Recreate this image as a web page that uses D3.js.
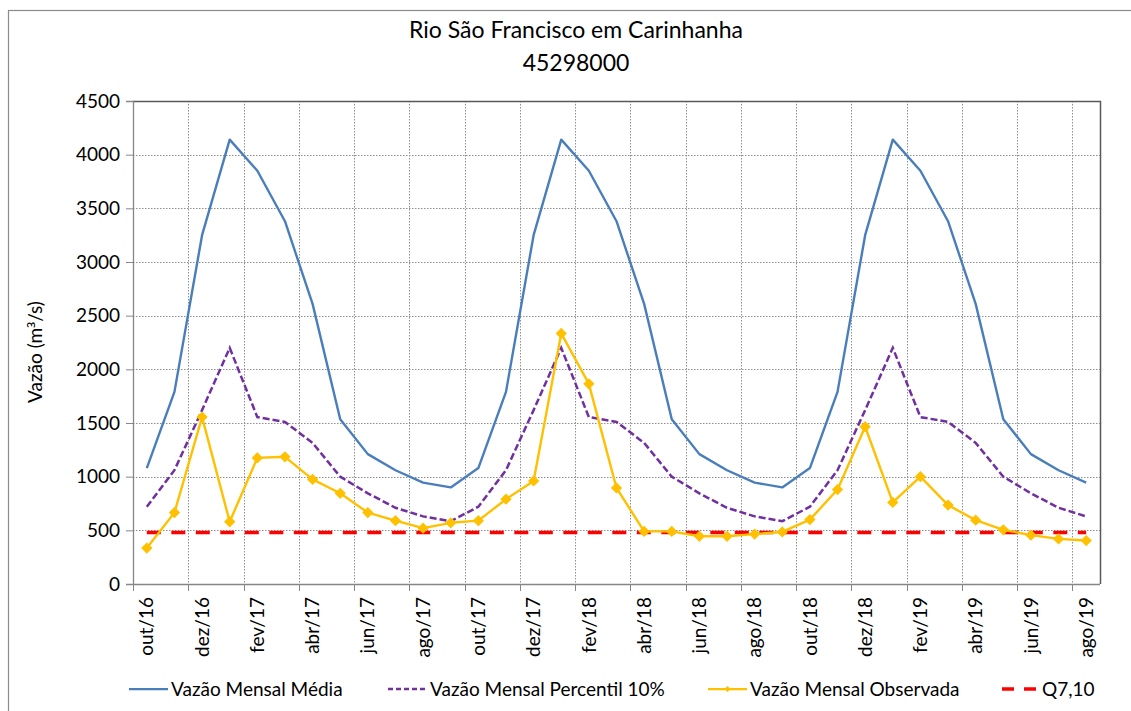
<!DOCTYPE html>
<html>
<head>
<meta charset="utf-8">
<script src="https://cdn.jsdelivr.net/npm/d3@7"></script>
<style>
  html, body { margin: 0; padding: 0; background: #fff; }
  svg { display: block; font-family: Lato, "Open Sans", sans-serif; }
</style>
</head>
<body>
<svg id="chart" width="1131" height="711"></svg>
<script>
// Monthly flows, Rio São Francisco at Carinhanha (station 45298000), m³/s
const months = [
  "out/16","nov/16","dez/16","jan/17","fev/17","mar/17","abr/17","mai/17","jun/17","jul/17","ago/17","set/17",
  "out/17","nov/17","dez/17","jan/18","fev/18","mar/18","abr/18","mai/18","jun/18","jul/18","ago/18","set/18",
  "out/18","nov/18","dez/18","jan/19","fev/19","mar/19","abr/19","mai/19","jun/19","jul/19","ago/19"
];

const vazaoMedia = [
  1080, 1790, 3250, 4140, 3850, 3380, 2610, 1535, 1210, 1060, 945, 900,
  1080, 1790, 3250, 4140, 3850, 3380, 2610, 1535, 1210, 1060, 945, 900,
  1080, 1790, 3250, 4140, 3850, 3380, 2610, 1535, 1210, 1060, 945
];

const vazaoPercentil10 = [
  720, 1060, 1620, 2200, 1555, 1510, 1315, 1000, 845, 710, 630, 585,
  720, 1060, 1620, 2200, 1555, 1510, 1315, 1000, 845, 710, 630, 585,
  720, 1060, 1620, 2200, 1555, 1510, 1315, 1000, 845, 710, 630
];

const vazaoObservada = [
  335, 665, 1555, 580, 1175, 1185, 975, 845, 665, 590, 520, 570,
  590, 790, 960, 2335, 1865, 895, 490, 490, 445, 445, 465, 485,
  600, 880, 1465, 760, 1000, 735, 595, 505, 455, 420, 405
];

const q710 = 480;

const yTicks = [0, 500, 1000, 1500, 2000, 2500, 3000, 3500, 4000, 4500];

const titleLines = ["Rio São Francisco em Carinhanha", "45298000"];
const yTitleParts = ["Vazão (m", "³", "/s)"];

const seriesNames = ["Vazão Mensal Média", "Vazão Mensal Percentil 10%", "Vazão Mensal Observada", "Q7,10"];

// ---- layout ----
const svg = d3.select("#chart");
const plot = { left: 133, right: 1100, top: 101, bottom: 584 };

const colors = { media: "#4A7EBB", p10: "#7030A0", obs: "#FFC000", q: "#FF0000" };

const x = d3.scaleBand().domain(months).range([plot.left, plot.right]).paddingInner(0).paddingOuter(0);
const cx = m => x(m) + x.bandwidth() / 2;
const y = d3.scaleLinear().domain([0, 4500]).range([plot.bottom, plot.top]);

// chart area border
svg.append("rect")
  .attr("x", 8.5).attr("y", 10.5).attr("width", 1140).attr("height", 720)
  .attr("fill", "none").attr("stroke", "#8c8c8c").attr("stroke-width", 1.2);

// title
svg.append("g").selectAll("text").data(titleLines).join("text")
  .attr("x", 576).attr("y", (d, i) => 38 + i * 33)
  .attr("text-anchor", "middle")
  .attr("font-size", 23).attr("fill", "#000")
  .text(d => d);

// grid lines
const gridColor = "#8f8f8f";
svg.append("g").selectAll("line").data(yTicks.filter(t => t > 0)).join("line")
  .attr("x1", plot.left).attr("x2", plot.right)
  .attr("y1", d => Math.round(y(d)) + 0.5).attr("y2", d => Math.round(y(d)) + 0.5)
  .attr("stroke", gridColor).attr("stroke-width", 1).attr("stroke-dasharray", "1.5 1.5");

const boundaryIdx = d3.range(2, months.length, 2);
svg.append("g").selectAll("line").data(boundaryIdx).join("line")
  .attr("x1", i => Math.round(x(months[i])) + 0.5).attr("x2", i => Math.round(x(months[i])) + 0.5)
  .attr("y1", plot.top).attr("y2", plot.bottom)
  .attr("stroke", gridColor).attr("stroke-width", 1).attr("stroke-dasharray", "1.5 1.5");

// plot area border (top & right)
svg.append("path")
  .attr("d", `M${plot.left},${plot.top + 0.5}H${plot.right + 0.5}V${plot.bottom}`)
  .attr("fill", "none").attr("stroke", "#595959").attr("stroke-width", 1.5);

// y axis
const yAxis = d3.axisLeft(y).tickValues(yTicks).tickSize(7).tickPadding(6).tickFormat(d3.format("d"));
const gy = svg.append("g").attr("transform", `translate(${plot.left},0)`).call(yAxis);
gy.select(".domain").attr("stroke", "#868686").attr("stroke-width", 1.3);
gy.selectAll(".tick line").attr("stroke", "#868686");
gy.selectAll(".tick text").attr("font-size", 19).attr("font-family", "Lato").attr("fill", "#000");

// x axis: ticks on every second category boundary, labels on every second category
const tickPositions = d3.range(0, months.length + 1, 2).map(i => i < months.length ? x(months[i]) : plot.right);
const gx = svg.append("g");
gx.append("line")
  .attr("x1", plot.left).attr("x2", plot.right)
  .attr("y1", plot.bottom + 0.5).attr("y2", plot.bottom + 0.5)
  .attr("stroke", "#868686").attr("stroke-width", 1.3);
gx.selectAll("line.tick").data(tickPositions).join("line").attr("class", "tick")
  .attr("x1", d => Math.round(d) + 0.5).attr("x2", d => Math.round(d) + 0.5)
  .attr("y1", plot.bottom).attr("y2", plot.bottom + 7)
  .attr("stroke", "#868686").attr("stroke-width", 1);
gx.selectAll("text").data(months.filter((d, i) => i % 2 === 0)).join("text")
  .attr("transform", d => `translate(${cx(d)},${plot.bottom + 13}) rotate(-90)`)
  .attr("text-anchor", "end").attr("dy", "0.35em")
  .attr("font-size", 19).attr("fill", "#000")
  .text(d => d);

// y axis title (superscript 3 taken from a font that carries the glyph)
const yt = svg.append("text")
  .attr("transform", `translate(35,352) rotate(-90)`)
  .attr("text-anchor", "middle").attr("dy", "0.35em")
  .attr("font-size", 19).attr("fill", "#000");
yt.selectAll("tspan").data(yTitleParts).join("tspan")
  .attr("font-family", (d, i) => i === 1 ? "'Noto Sans', 'DejaVu Sans', sans-serif" : null)
  .attr("font-size", (d, i) => i === 1 ? 17 : null)
  .text(d => d);

// series
const line = d3.line().x(d => cx(d.m)).y(d => y(d.v));
const pts = arr => arr.map((v, i) => ({ m: months[i], v }));

svg.append("path").datum(pts(vazaoMedia)).attr("d", line)
  .attr("fill", "none").attr("stroke", colors.media).attr("stroke-width", 2.4).attr("stroke-linejoin", "round");

svg.append("path").datum(pts(vazaoPercentil10)).attr("d", line)
  .attr("fill", "none").attr("stroke", colors.p10).attr("stroke-width", 2.5).attr("stroke-dasharray", "7 3");

svg.append("path")
  .datum([{ m: months[0], v: q710 }, { m: months[months.length - 1], v: q710 }])
  .attr("d", line)
  .attr("fill", "none").attr("stroke", colors.q).attr("stroke-width", 3.5).attr("stroke-dasharray", "14 10.5");

svg.append("path").datum(pts(vazaoObservada)).attr("d", line)
  .attr("fill", "none").attr("stroke", colors.obs).attr("stroke-width", 2.4).attr("stroke-linejoin", "round");

// diamond markers for the observed series
const diamond = d3.symbol().type(d3.symbolSquare).size(46);
svg.append("g").selectAll("path").data(pts(vazaoObservada)).join("path")
  .attr("transform", d => `translate(${cx(d.m)},${y(d.v)}) rotate(45)`)
  .attr("d", diamond)
  .attr("fill", colors.obs).attr("stroke", colors.obs).attr("stroke-width", 1.2);

// legend
const legendY = 689;
const legendItems = [
  { name: seriesNames[0], x0: 129, color: colors.media, width: 2.25, dash: null, marker: false },
  { name: seriesNames[1], x0: 388, color: colors.p10, width: 2.5, dash: "5 3", marker: false },
  { name: seriesNames[2], x0: 708, color: colors.obs, width: 2.25, dash: null, marker: true },
  { name: seriesNames[3], x0: 1002, color: colors.q, width: 3.5, dash: "12 10", marker: false }
];
const lg = svg.append("g").selectAll("g").data(legendItems).join("g")
  .attr("transform", d => `translate(${d.x0},${legendY})`);
lg.append("line")
  .attr("x1", 0).attr("x2", d => d.name === "Q7,10" ? 36 : 39)
  .attr("y1", 0).attr("y2", 0)
  .attr("stroke", d => d.color).attr("stroke-width", d => d.width)
  .attr("stroke-dasharray", d => d.dash);
lg.filter(d => d.marker).append("path")
  .attr("transform", "translate(19.5,0) rotate(45)")
  .attr("d", d3.symbol().type(d3.symbolSquare).size(18))
  .attr("fill", colors.obs);
lg.append("text")
  .attr("x", d => d.name === "Q7,10" ? 40 : 42).attr("dy", "0.35em")
  .attr("font-size", 19).attr("fill", "#000")
  .text(d => d.name);
</script>
</body>
</html>
